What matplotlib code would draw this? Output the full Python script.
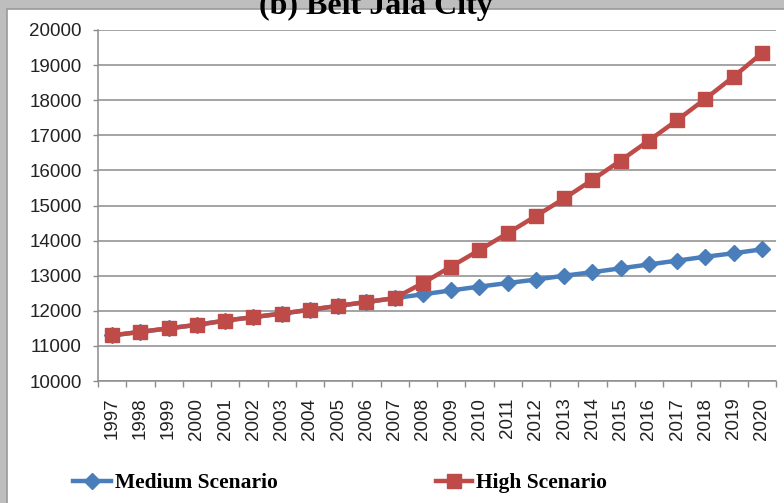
import matplotlib
matplotlib.use("Agg")
import matplotlib.pyplot as plt
from matplotlib.patches import Rectangle
from matplotlib.lines import Line2D

years = [str(y) for y in range(1997, 2021)]
medium = [11300, 11400, 11500, 11600, 11720, 11820, 11920, 12030, 12140, 12250,
          12360, 12470, 12580, 12690, 12790, 12890, 13000, 13100, 13210, 13320,
          13430, 13540, 13640, 13750]
high = [11300, 11400, 11500, 11600, 11720, 11820, 11920, 12030, 12140, 12250,
        12360, 12790, 13260, 13730, 14210, 14700, 15200, 15730, 16280, 16850,
        17430, 18040, 18670, 19340]
yticks = list(range(10000, 20001, 1000))
title = "(b) Beit Jala City"

blue = "#4A7EBB"
red = "#BE4B48"

W, H = 784, 503
fig = plt.figure(figsize=(W / 100, H / 100), dpi=100)
fig.patch.set_facecolor("#bebebe")
# white panel
panel = Rectangle((7 / W, -0.01), 1.0, 1 - 9.5 / H + 0.01, transform=fig.transFigure,
                  facecolor="white", edgecolor="#9a9a9a", linewidth=1.2, zorder=-5)
fig.add_artist(panel)

ax = fig.add_axes([98 / W, 1 - 381 / H, (776 - 98) / W, (381 - 30) / H])
ax.set_facecolor("none")
x = list(range(len(years)))
ax.plot(x, medium, color=blue, lw=3.2, marker="D", ms=8, mec=blue, mfc=blue, zorder=3)
ax.plot(x, high, color=red, lw=3.2, marker="s", ms=10, mec=red, mfc=red, zorder=4)

ax.set_xlim(-0.5, len(years) - 0.5)
ax.set_ylim(10000, 20000)
ax.set_yticks(yticks)
ax.set_yticklabels([str(v) for v in yticks], fontsize=13.5, family="Liberation Sans",
                   color="#222222")
ax.yaxis.grid(True, color="#8c8c8c", lw=1.1)
ax.set_axisbelow(True)
ax.set_xticks(x)
ax.set_xticklabels(years, rotation=90, fontsize=13.5, family="Liberation Sans",
                   color="#222222")
ax.tick_params(axis="x", length=0, pad=12)
ax.set_xticks([i - 0.5 for i in range(len(years) + 1)], minor=True)
ax.tick_params(axis="x", which="minor", length=4.3, color="#8c8c8c", width=1)
ax.tick_params(axis="y", length=3.6, color="#8c8c8c", width=1, pad=8)
for s in ["top", "right"]:
    ax.spines[s].set_visible(False)
for s in ["left", "bottom"]:
    ax.spines[s].set_color("#8c8c8c")
    ax.spines[s].set_linewidth(1.1)

fig.text(376 / W, 1 - 14 / H, title, ha="center", va="baseline", fontsize=23,
         fontweight="bold", family="Liberation Serif")

h1 = Line2D([], [], color=blue, lw=3.2, marker="D", ms=8)
h2 = Line2D([], [], color=red, lw=3.2, marker="s", ms=10)
prop = {"family": "Liberation Serif", "weight": "bold", "size": 15.5}
fig.legend([h1], ["Medium Scenario"], loc="center left", bbox_to_anchor=(54 / W, 1 - 483 / H),
           frameon=False, prop=prop, handlelength=1.75, handletextpad=0.2)
fig.legend([h2], ["High Scenario"], loc="center left", bbox_to_anchor=(417 / W, 1 - 483 / H),
           frameon=False, prop=prop, handlelength=1.65, handletextpad=0.2)

fig.savefig("out.png", dpi=100, facecolor=fig.get_facecolor())
